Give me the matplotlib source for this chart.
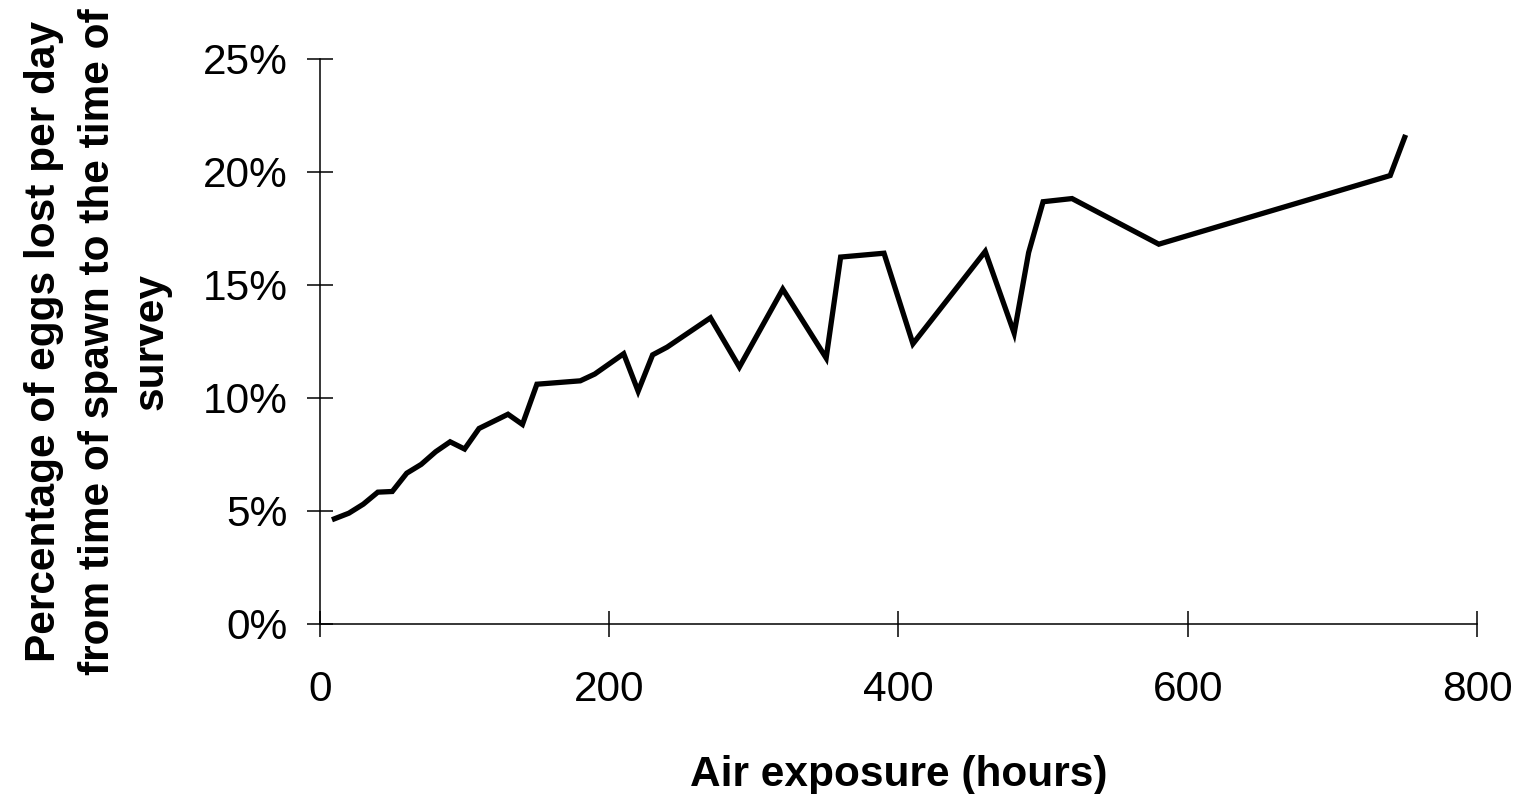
import matplotlib.pyplot as plt
from matplotlib.ticker import PercentFormatter

plt.rcParams['font.family'] = ['Liberation Sans', 'DejaVu Sans']

# egg loss rate vs. cumulative air exposure
hours = [10, 20, 30, 40, 50, 60, 70, 80, 90, 100, 110, 130, 140, 150, 180,
         190, 210, 220, 230, 240, 270, 290, 320, 350, 360, 390, 410, 460,
         480, 490, 500, 520, 580, 740, 750]
loss_pct = [4.64, 4.89, 5.29, 5.82, 5.85, 6.66, 7.05, 7.61, 8.05, 7.73, 8.64,
            9.27, 8.82, 10.6, 10.75, 11.05, 11.95, 10.29, 11.9, 12.24, 13.54,
            11.36, 14.81, 11.76, 16.23, 16.4, 12.39, 16.48, 12.86, 16.43,
            18.68, 18.82, 16.8, 19.84, 21.53]

fs = 30.5

fig = plt.figure(figsize=(15.2, 7.94), dpi=100)
ax = fig.add_axes([0.2105, 0.2146, 0.7612, 0.7111])

ax.plot(hours, loss_pct, color='black', linewidth=3.8, solid_joinstyle='miter')

ax.set_xlim(0, 800)
ax.set_ylim(0, 25)
ax.set_xticks([0, 200, 400, 600, 800])
ax.set_yticks([0, 5, 10, 15, 20, 25])
ax.yaxis.set_major_formatter(PercentFormatter(xmax=100, decimals=0))

for side in ['top', 'right']:
    ax.spines[side].set_visible(False)
for side in ['left', 'bottom']:
    ax.spines[side].set_linewidth(1.1)

ax.tick_params(axis='x', direction='inout', length=19, width=1.1,
               labelsize=fs, pad=24)
ax.tick_params(axis='y', direction='inout', length=19, width=1.1,
               labelsize=fs, pad=14)

ax.set_xlabel('Air exposure (hours)', fontsize=fs, fontweight='bold',
              labelpad=32)
ax.set_ylabel('Percentage of eggs lost per day\n'
              'from time of spawn to the time of\nsurvey',
              fontsize=fs, fontweight='bold', linespacing=1.45, labelpad=22)

fig.savefig('out.png', dpi=100)
